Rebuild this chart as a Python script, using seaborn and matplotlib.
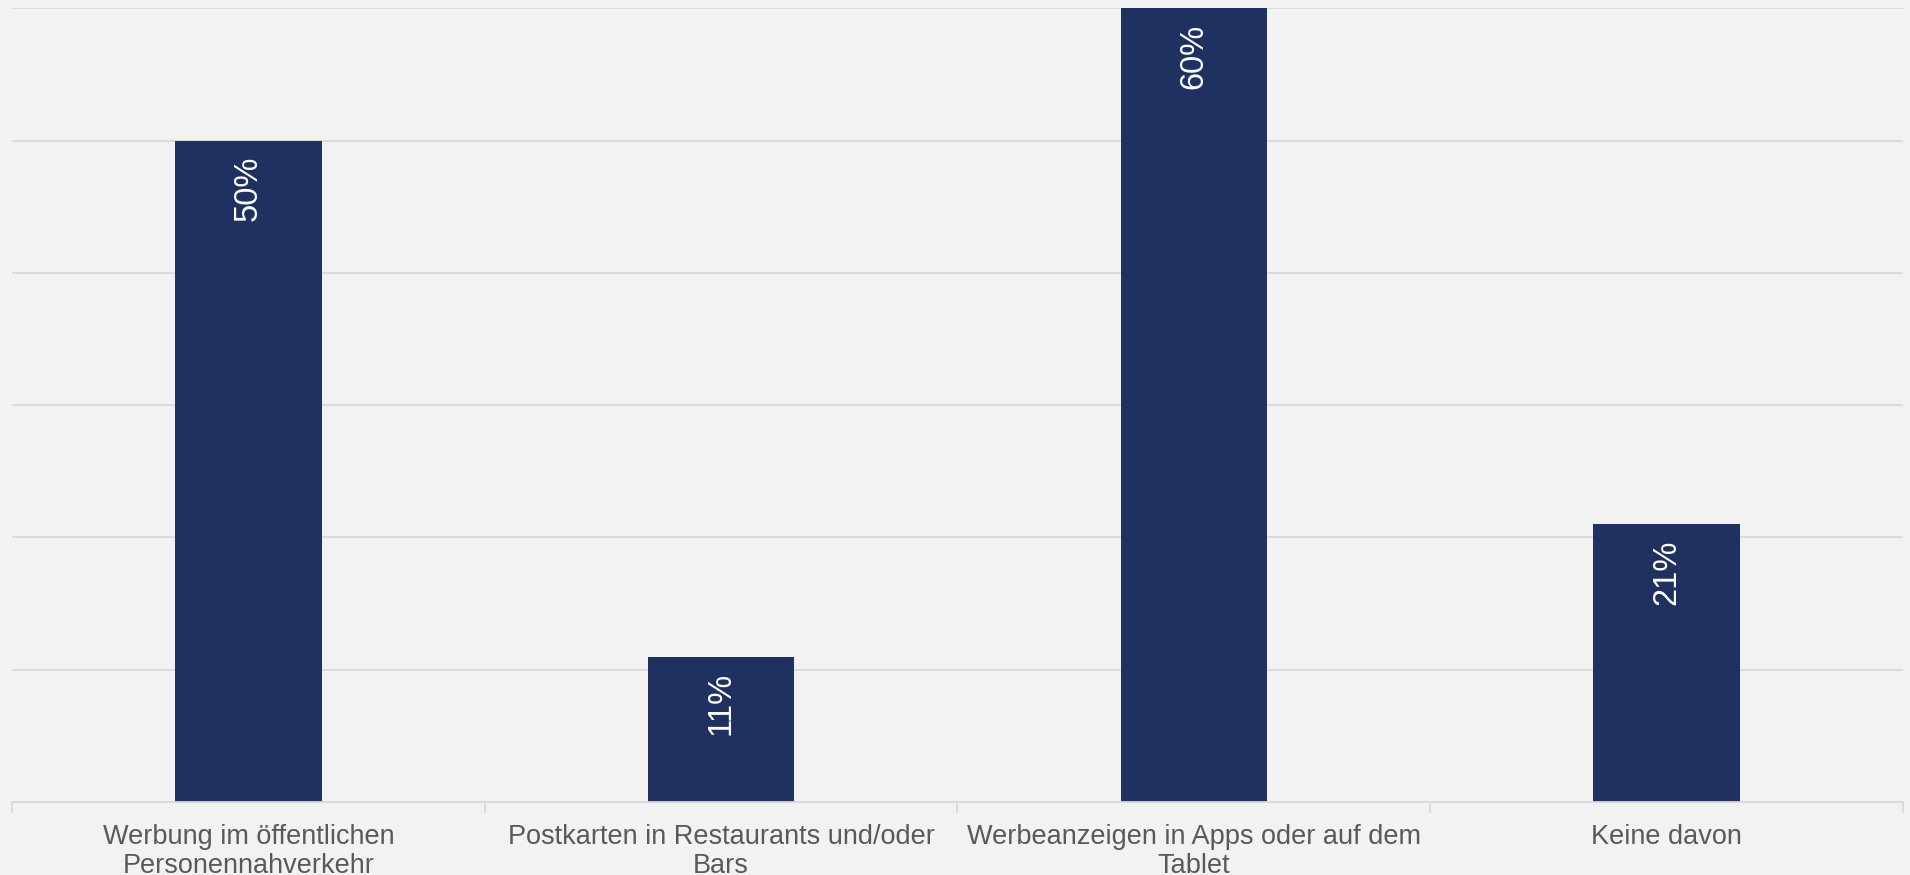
import matplotlib
matplotlib.use("Agg")
import matplotlib.pyplot as plt
import seaborn as sns
import pandas as pd

# data
categories = [
    "Werbung im öffentlichen\nPersonennahverkehr",
    "Postkarten in Restaurants und/oder\nBars",
    "Werbeanzeigen in Apps oder auf dem\nTablet",
    "Keine davon",
]
values = [50, 11, 60, 21]
y_gridlines = [0, 10, 20, 30, 40, 50, 60]

BG = "#F2F2F2"
BAR = "#1F3160"
GRID = "#D9D9D9"
TEXT = "#595959"

sns.set_theme(style="white")
plt.rcParams["font.family"] = ["Liberation Sans", "DejaVu Sans"]

df = pd.DataFrame({"category": categories, "value": values})

fig = plt.figure(figsize=(19.1, 8.75), dpi=100, facecolor=BG)
ax = fig.add_axes([0.0063, 0.0834, 0.99, 0.907])
ax.set_facecolor(BG)

sns.barplot(data=df, x="category", y="value", color=BAR, width=0.31,
            saturation=1, linewidth=0, ax=ax, zorder=3)

ax.set_xlim(-0.5, len(categories) - 0.5)
ax.set_ylim(0, 60)
ax.set_yticks(y_gridlines)
ax.yaxis.grid(True, color=GRID, linewidth=1.3, zorder=0)
ax.tick_params(axis="y", left=False, labelleft=False)
ax.set_xlabel("")
ax.set_ylabel("")

# category labels, boundary ticks as minor ticks
ax.tick_params(axis="x", which="major", bottom=True, length=0, pad=16,
               labelsize=19.5, labelcolor=TEXT)
for lbl in ax.get_xticklabels():
    lbl.set_linespacing(1.12)
ax.set_xticks([i - 0.5 for i in range(len(categories) + 1)], minor=True)
ax.tick_params(axis="x", which="minor", bottom=True, length=8, width=1.3,
               color=GRID)

for side in ["top", "left", "right"]:
    ax.spines[side].set_visible(False)
ax.spines["bottom"].set_color(GRID)
ax.spines["bottom"].set_linewidth(1.3)
ax.spines["bottom"].set_zorder(4)

# value labels inside the bars, rotated
for i, v in enumerate(values):
    ax.annotate(f"{v}%", xy=(i, v), xytext=(0, -11), textcoords="offset points",
                rotation=90, ha="center", va="top", color="white",
                fontsize=23.5, zorder=5)

fig.savefig("out.png", dpi=100, facecolor=BG)
